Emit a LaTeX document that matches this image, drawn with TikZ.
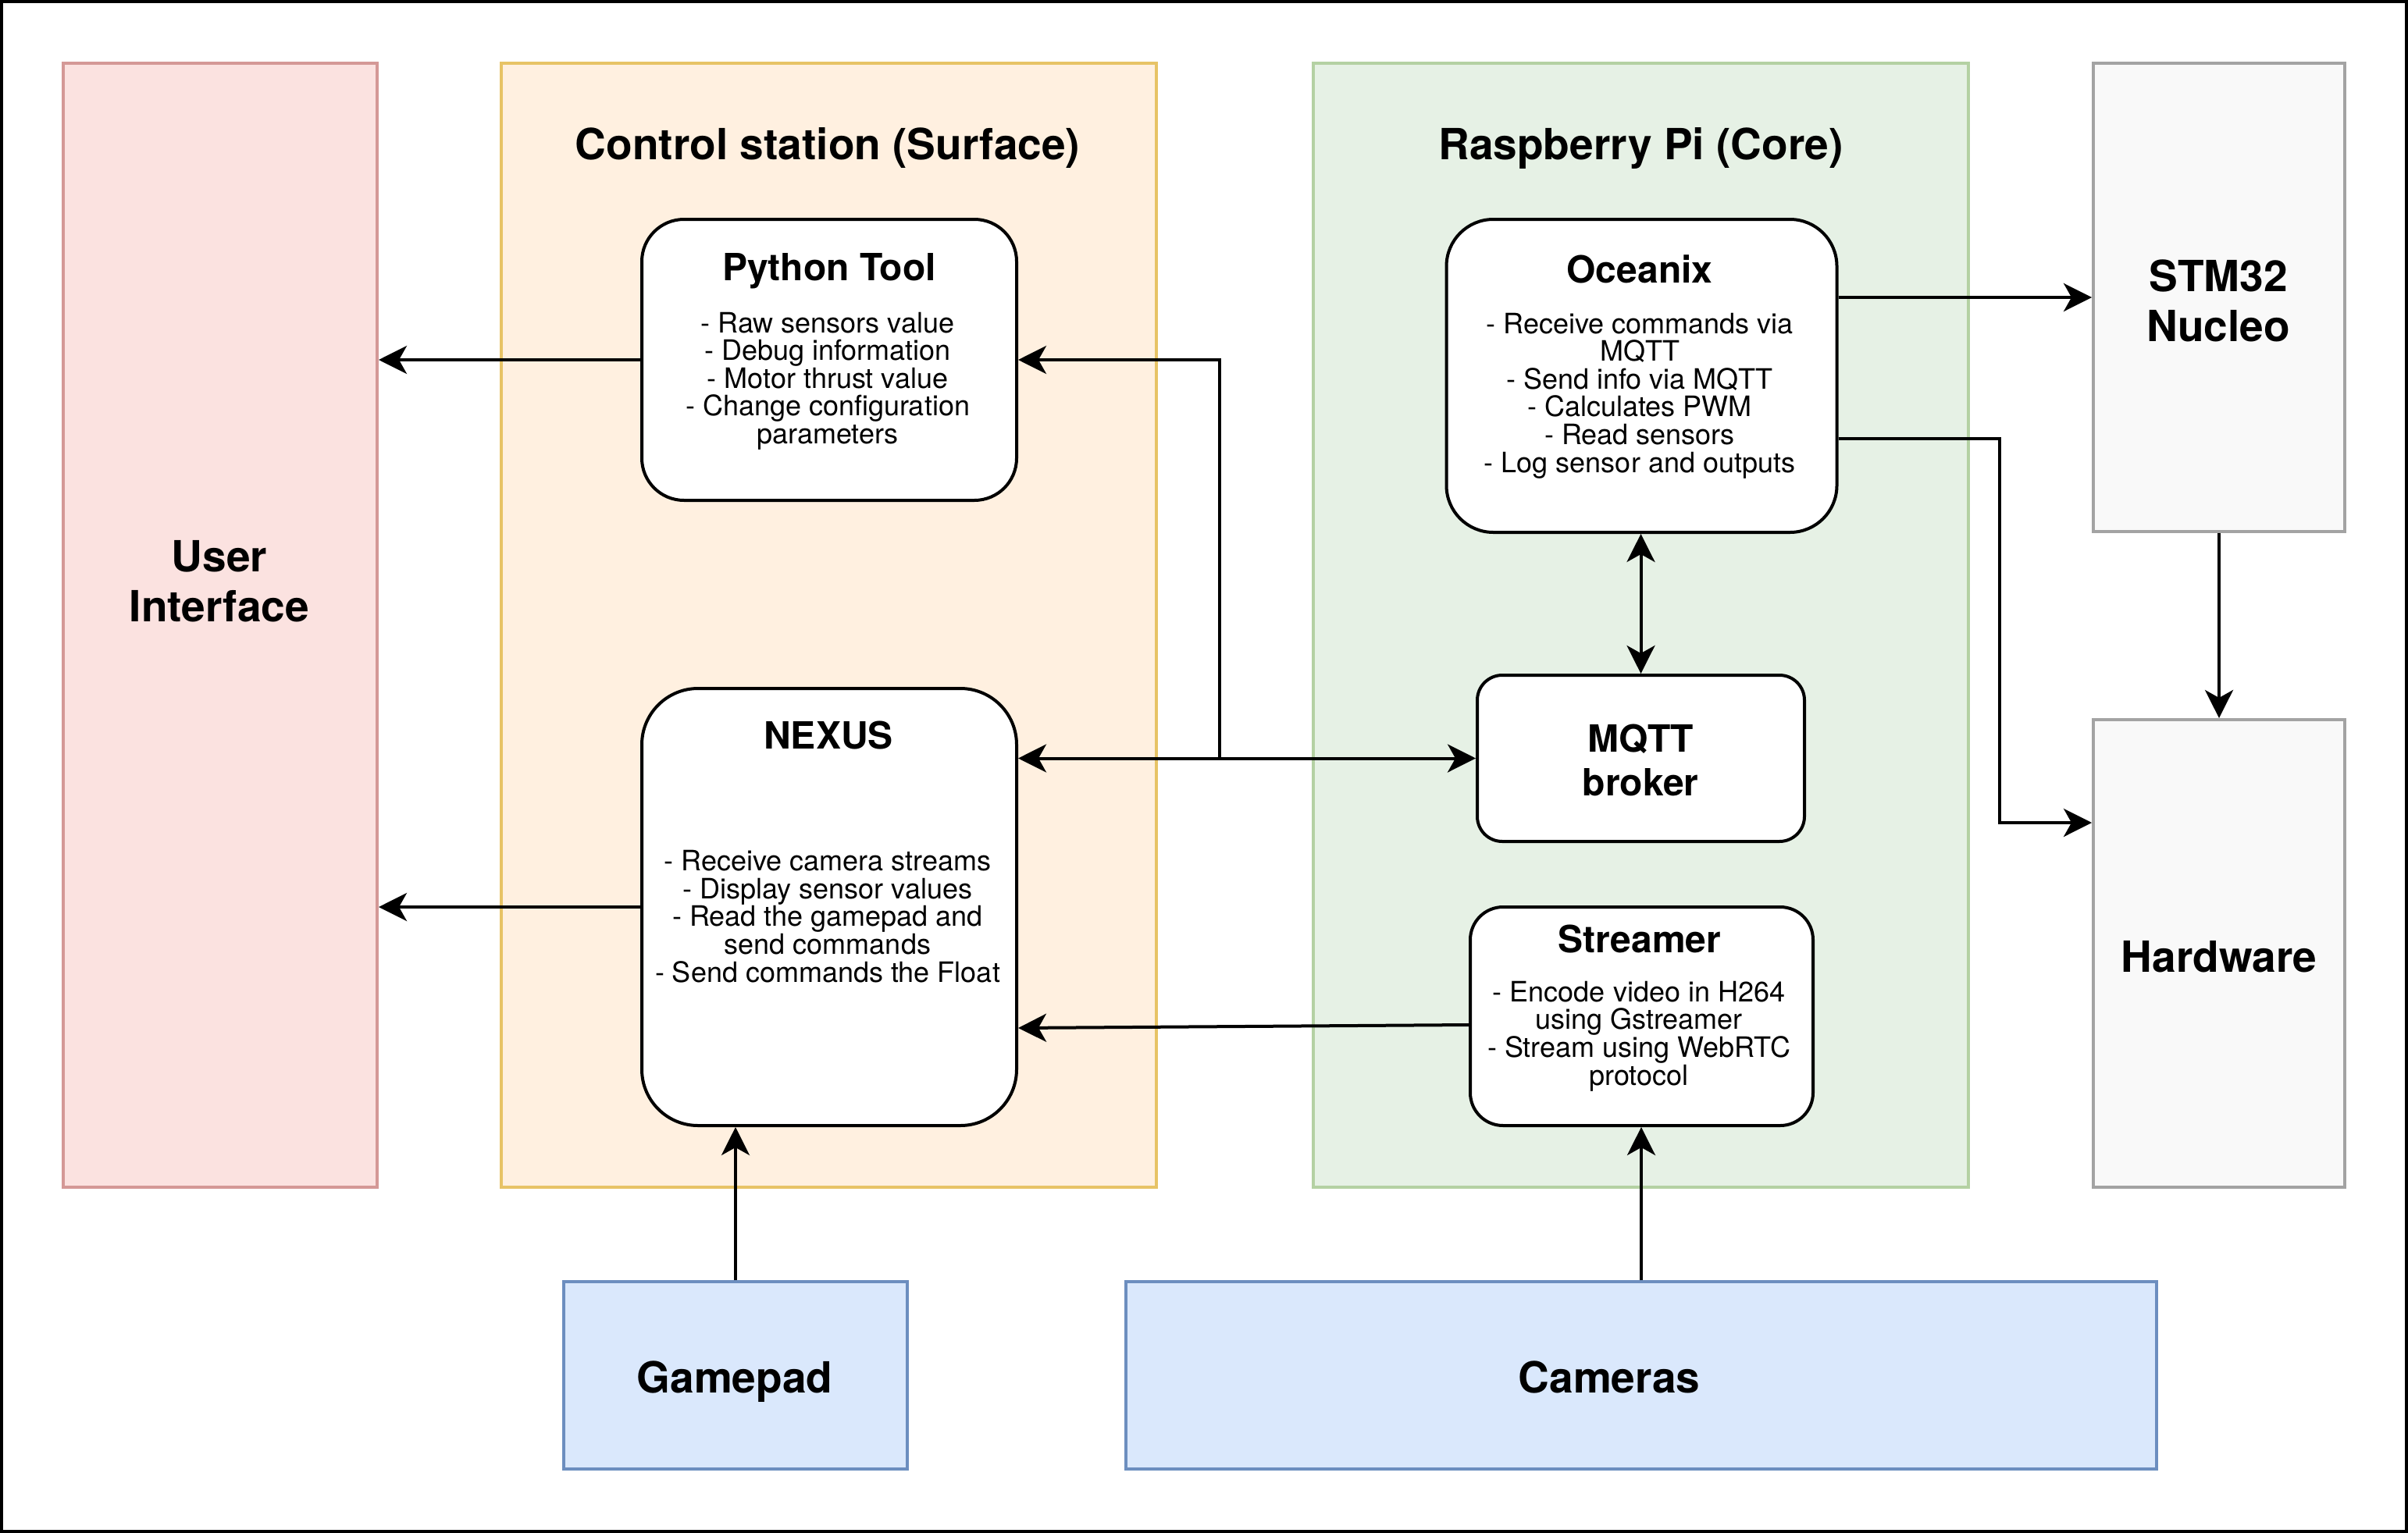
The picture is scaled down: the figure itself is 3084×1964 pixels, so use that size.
\documentclass[tikz,border=0pt]{standalone}
\usepackage{fontspec}
\setmainfont{TeX Gyre Heros}
\usepackage{xcolor}
\usetikzlibrary{arrows.meta}

\definecolor{uiFill}{HTML}{FBE2E0}
\definecolor{uiLine}{HTML}{D49896}
\definecolor{csFill}{HTML}{FFF0E0}
\definecolor{csLine}{HTML}{E7C366}
\definecolor{piFill}{HTML}{E6F1E5}
\definecolor{piLine}{HTML}{B4D1A3}
\definecolor{hwFill}{HTML}{F9F9F9}
\definecolor{hwLine}{HTML}{A3A3A3}
\definecolor{inFill}{HTML}{DAE8FC}
\definecolor{inLine}{HTML}{6C8EBF}

\begin{document}
\begin{tikzpicture}[x=0.5pt, y=-0.5pt]
			\tikzstyle{every node}=[inner sep=0pt];
			\tikzstyle{group}=[draw, line width=2pt, rectangle];
			\tikzstyle{block}=[draw, line width=2pt, fill=white, rectangle];
			\tikzstyle{bigtxt}=[font=\fontsize{27.5pt}{32pt}\selectfont\bfseries, align=center, anchor=base];
			\tikzstyle{title}=[font=\fontsize{24pt}{28pt}\selectfont\bfseries, align=center, anchor=base];
			\tikzstyle{body}=[font=\fontsize{18pt}{17.8pt}\selectfont, align=center, anchor=base];
			\tikzstyle{arr}=[line width=2pt, -{Stealth[length=18pt, width=18pt, inset=5pt]}];
			\tikzstyle{dblarr}=[line width=2pt, {Stealth[length=18pt, width=18pt, inset=5pt]}-{Stealth[length=18pt, width=18pt, inset=5pt]}];
			
			\useasboundingbox (0,0) rectangle (3084,1964);
			\draw[line width=2pt] (2,2) rectangle (3082,1962);
			
			%Containers (multi-line texts sit on their last baseline)
			\node[group, fill=uiFill, draw=uiLine, minimum width=201pt, minimum height=720pt] (ui) at (282,801) {};
			\node[bigtxt] (ui-text) at (281,796) {User\\Interface};
			\node[group, fill=csFill, draw=csLine, minimum width=419.5pt, minimum height=720pt] (station) at (1061.5,801) {};
			\node[bigtxt] (station-title) at (1060,205) {Control station (Surface)};
			\node[group, fill=piFill, draw=piLine, minimum width=419.5pt, minimum height=720pt] (rpi) at (2101.5,801) {};
			\node[bigtxt] (rpi-title) at (2101.5,205) {Raspberry Pi (Core)};
			\node[group, fill=hwFill, draw=hwLine, minimum width=161pt, minimum height=300pt] (stm) at (2842,381) {};
			\node[bigtxt] (stm-text) at (2841,437) {STM32\\Nucleo};
			\node[group, fill=hwFill, draw=hwLine, minimum width=161pt, minimum height=299.5pt] (hw) at (2842,1221.5) {};
			\node[bigtxt] (hw-text) at (2842,1245) {Hardware};
			
			%Inputs
			\node[group, fill=inFill, draw=inLine, minimum width=220pt, minimum height=120pt] (gamepad) at (942,1762) {};
			\node[bigtxt] (gamepad-text) at (941,1784) {Gamepad};
			\node[group, fill=inFill, draw=inLine, minimum width=660pt, minimum height=120pt] (cameras) at (2102,1762) {};
			\node[bigtxt] (cameras-text) at (2061,1784) {Cameras};
			
			%Software blocks
			\node[block, minimum width=240pt, minimum height=180pt, rounded corners=27pt] (python) at (1062,461) {};
			\node[title] (python-title) at (1062,359) {Python Tool};
			\node[body] (python-text) at (1060,568.5) {- Raw sensors value\\- Debug information\\- Motor thrust value\\- Change configuration\\parameters};
			
			\node[block, minimum width=240pt, minimum height=280pt, rounded corners=36pt] (nexus) at (1062,1162) {};
			\node[title] (nexus-title) at (1061,959.5) {NEXUS};
			\node[body] (nexus-text) at (1060,1258) {- Receive camera streams\\- Display sensor values\\- Read the gamepad and\\send commands\\- Send commands the Float};
			
			\node[block, minimum width=250pt, minimum height=200.5pt, rounded corners=30pt] (oceanix) at (2102.5,481.5) {};
			\node[title] (oceanix-title) at (2100,362) {Oceanix};
			\node[body] (oceanix-text) at (2100,605) {- Receive commands via\\MQTT\\- Send info via MQTT\\- Calculates PWM\\- Read sensors\\- Log sensor and outputs};
			
			\node[block, minimum width=209.5pt, minimum height=106.5pt, rounded corners=16pt] (mqtt) at (2101.5,971.5) {};
			\node[title] (mqtt-text) at (2101,1019) {MQTT\\broker};
			
			\node[block, minimum width=219.5pt, minimum height=140pt, rounded corners=21pt] (streamer) at (2102.5,1302) {};
			\node[title] (streamer-title) at (2100,1220) {Streamer};
			\node[body] (streamer-text) at (2099,1390) {- Encode video in H264\\using Gstreamer\\- Stream using WebRTC\\protocol};
			
			%Links
			\coordinate (tap) at (1562,971.5);
			\coordinate (fork) at (2561,562);
			\coordinate (hwin) at (2681,1054);
			\draw[arr] (python.west) -- (python.west -| ui.east);
			\draw[arr] (nexus.west) -- (nexus.west -| ui.east);
			\draw[dblarr] (mqtt.west -| nexus.east) -- (mqtt.west);
			\draw[arr] (tap) |- (python.east);
			\draw[dblarr] (mqtt.north |- oceanix.south) -- (mqtt.north);
			\draw[arr] (stm.west -| oceanix.east) -- (stm.west);
			\draw[arr] (fork -| oceanix.east) -- (fork) |- (hwin -| hw.west);
			\draw[arr] (stm.south) -- (hw.north);
			\draw[arr] (gamepad.north) -- (gamepad.north |- nexus.south);
			\draw[arr] (cameras.north) -- (cameras.north |- streamer.south);
			\draw[arr] ([yshift=-5.5pt]streamer.west) -- ([yshift=-77.5pt]nexus.east);
\end{tikzpicture}
\end{document}
